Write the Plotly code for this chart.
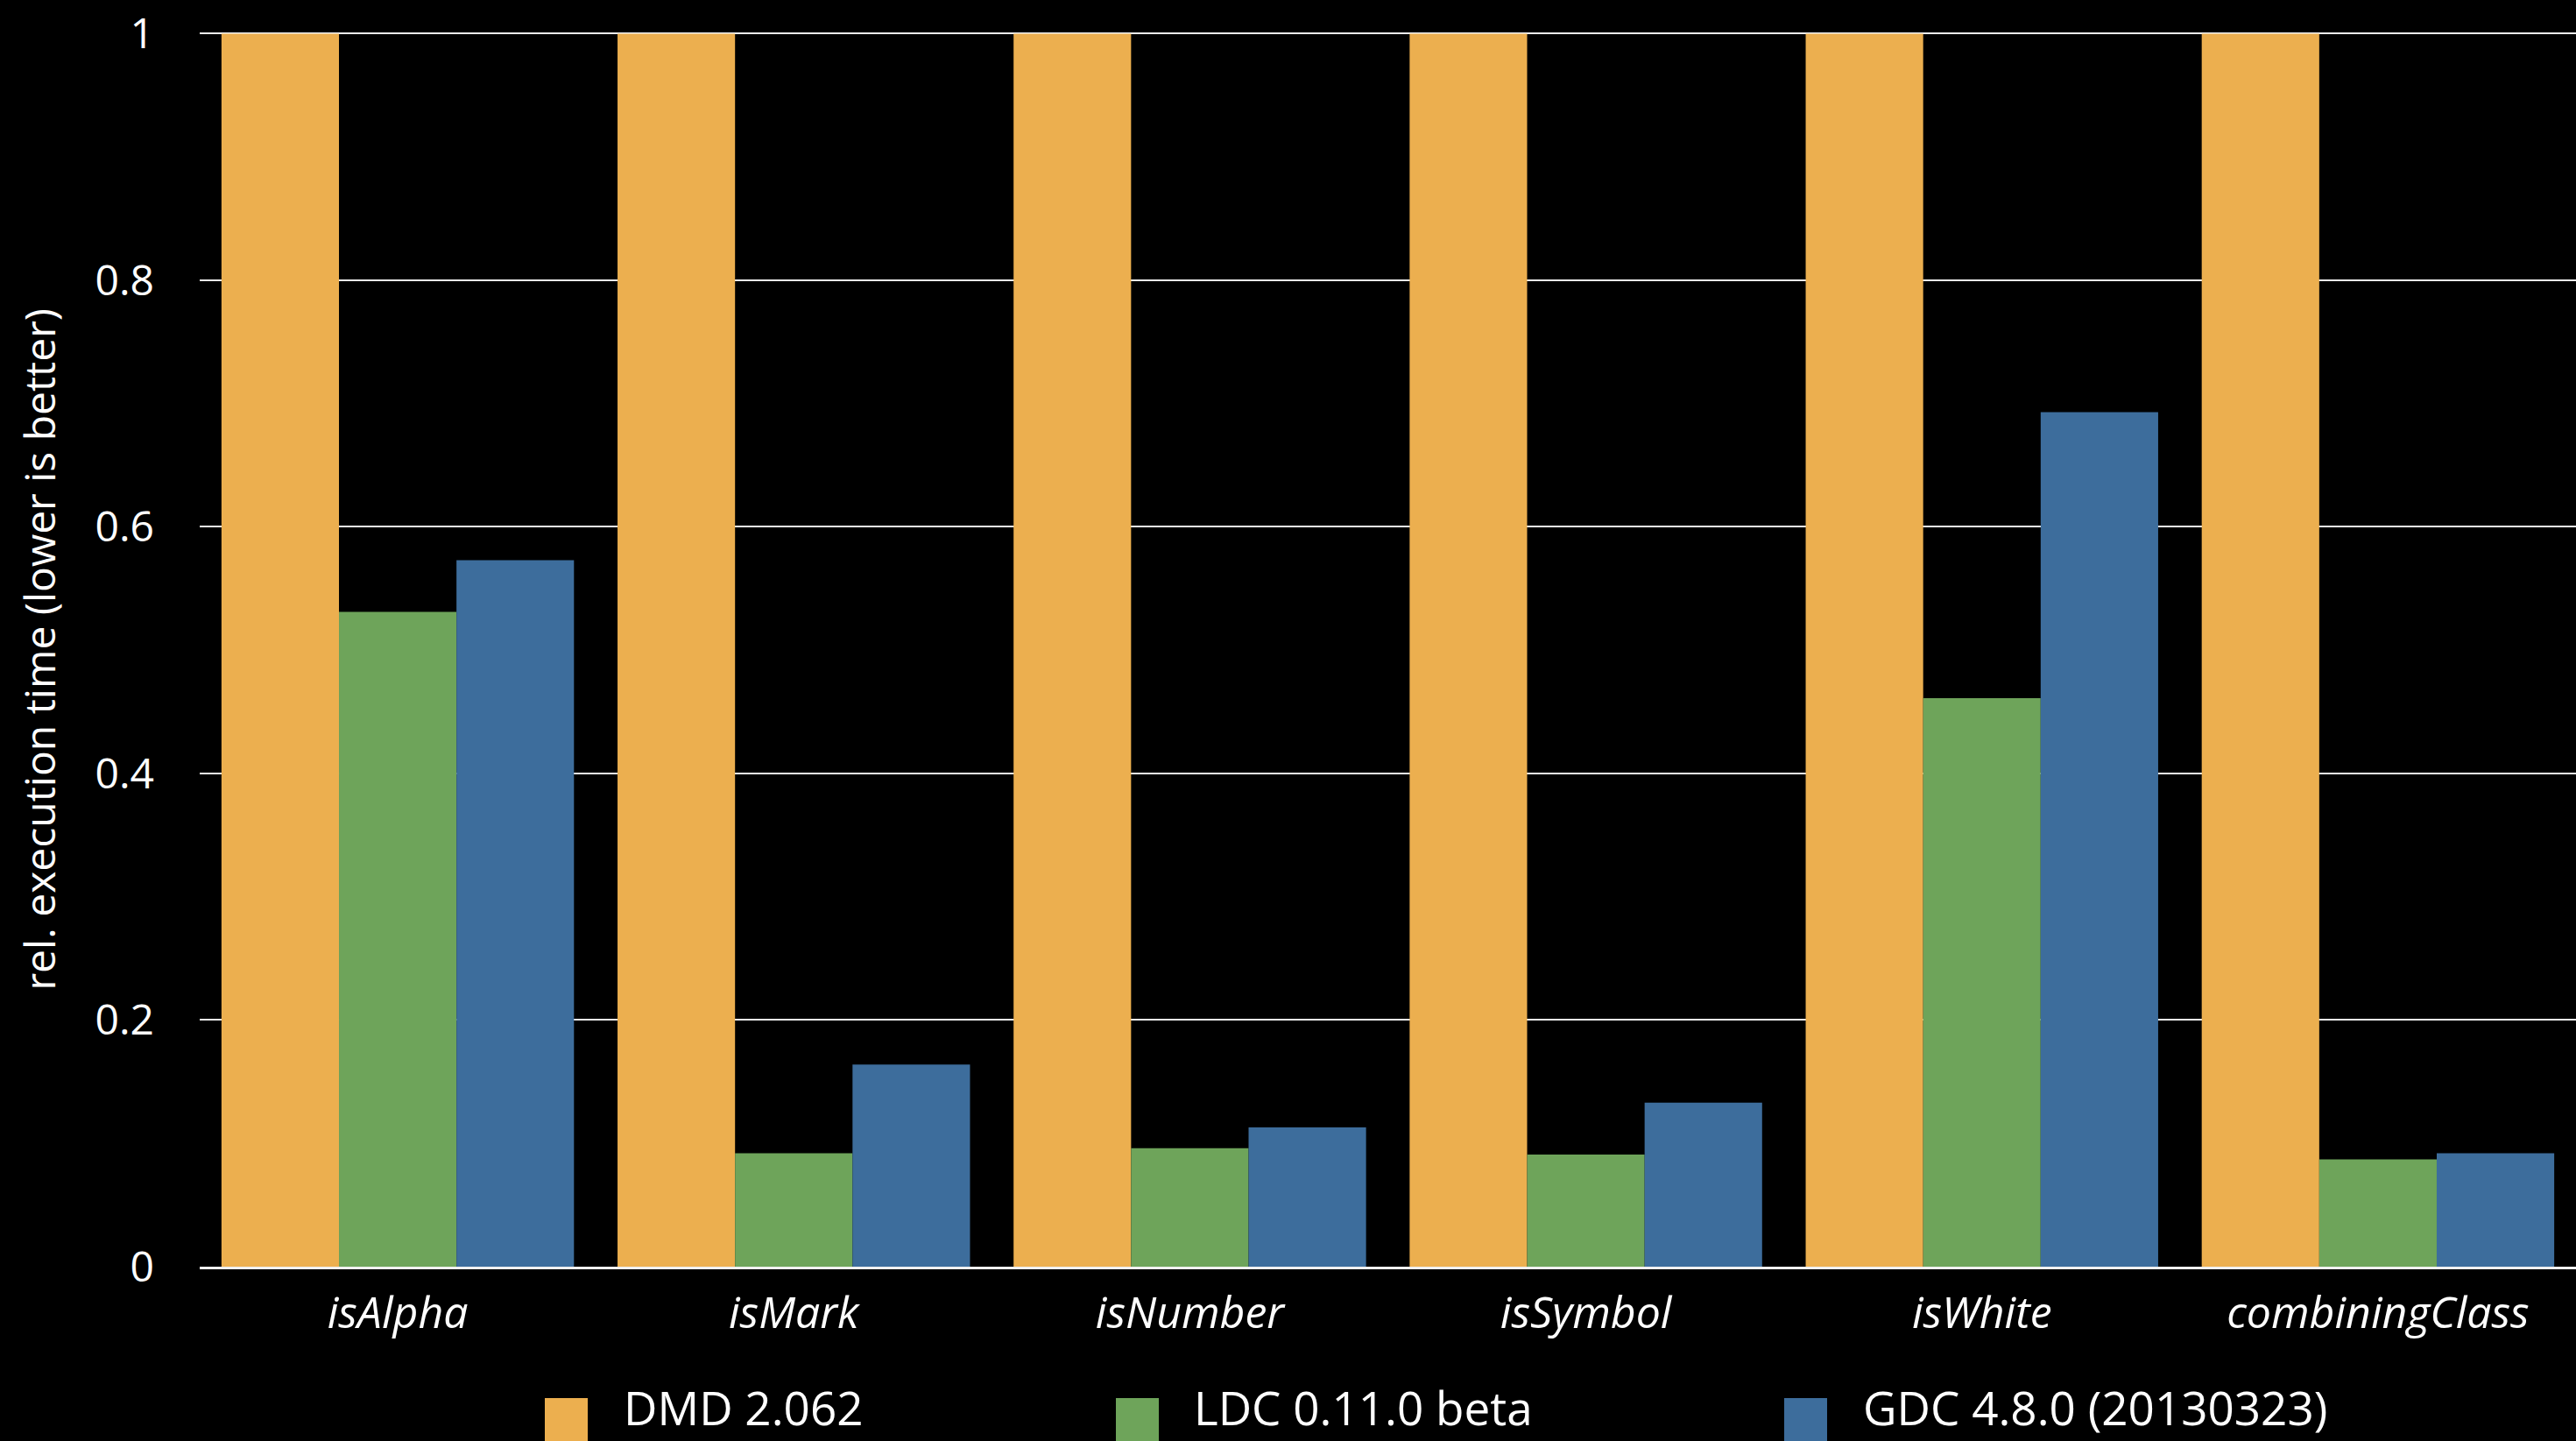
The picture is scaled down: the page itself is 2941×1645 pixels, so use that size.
import plotly.graph_objects as go

# Benchmark results: execution time relative to DMD (lower is better)
categories = ["isAlpha", "isMark", "isNumber", "isSymbol", "isWhite", "combiningClass"]
series_names = ["DMD 2.062", "LDC 0.11.0 beta", "GDC 4.8.0 (20130323)"]
dmd_values = [1.0, 1.0, 1.0, 1.0, 1.0, 1.0]
ldc_values = [0.531, 0.092, 0.096, 0.091, 0.461, 0.087]
gdc_values = [0.573, 0.164, 0.113, 0.133, 0.693, 0.092]
y_tick_values = [0, 0.2, 0.4, 0.6, 0.8, 1]
y_tick_labels = ["0", "0.2", "0.4", "0.6", "0.8", "1"]
y_title = "rel. execution time (lower is better)"

# Styling
colors = ["#ECAF4F", "#6EA45A", "#3D6D9C"]
FONT = "Open Sans, sans-serif"
W, H = 2941, 1645
M_L, M_R, M_T, M_B = 228, 0, 37, 199
plot_w = W - M_L - M_R
plot_h = H - M_T - M_B


def px_to_paper_x(px):
    return (px - M_L) / plot_w


def px_to_paper_y(py):
    return (H - M_B - py) / plot_h


fig = go.Figure()
for name, vals, col in zip(series_names, [dmd_values, ldc_values, gdc_values], colors):
    fig.add_trace(go.Bar(
        x=categories, y=vals, name=name,
        marker=dict(color=col, line=dict(width=0)),
        showlegend=False,
    ))

# Hand-built legend row along the bottom edge (large square swatches)
legend_swatch_px = [(622, 671), (1274, 1323), (2037, 2086)]
legend_text_px = [710, 1361, 2125]
shapes = []
annotations = []
for (x0, x1), tx, name, col in zip(legend_swatch_px, legend_text_px, series_names, colors):
    shapes.append(dict(
        type="rect", xref="paper", yref="paper",
        x0=px_to_paper_x(x0), x1=px_to_paper_x(x1),
        y0=px_to_paper_y(1596), y1=px_to_paper_y(1700),
        fillcolor=col, line=dict(width=0), layer="above",
    ))
    annotations.append(dict(
        xref="paper", yref="paper", x=px_to_paper_x(tx), y=px_to_paper_y(1645),
        xanchor="left", yanchor="bottom", showarrow=False, text=name,
        font=dict(family=FONT, size=53, color="white"),
    ))

annotations.append(dict(
    xref="paper", yref="paper", x=px_to_paper_x(44), y=0.5,
    xanchor="center", yanchor="middle", showarrow=False, textangle=-90,
    text=y_title, font=dict(family=FONT, size=48, color="white"),
))

fig.update_layout(
    width=W, height=H,
    margin=dict(l=M_L, r=M_R, t=M_T, b=M_B, pad=0),
    paper_bgcolor="black", plot_bgcolor="black",
    barmode="group", bargap=0.11, bargroupgap=0,
    font=dict(family=FONT, color="white"),
    shapes=shapes, annotations=annotations,
    xaxis=dict(
        showgrid=False, showline=True, linecolor="#f0f0f0", linewidth=3,
        ticks="", ticklabelstandoff=7,
        tickfont=dict(family=FONT, size=50, color="white", style="italic"),
    ),
    yaxis=dict(
        range=[0, 1.001], tickvals=y_tick_values, ticktext=y_tick_labels,
        showgrid=True, gridcolor="#f0f0f0", gridwidth=2,
        zeroline=False, showline=False, ticks="", ticklabelstandoff=51,
        tickfont=dict(family=FONT, size=48, color="white"),
    ),
)

fig.write_html("out.html")
